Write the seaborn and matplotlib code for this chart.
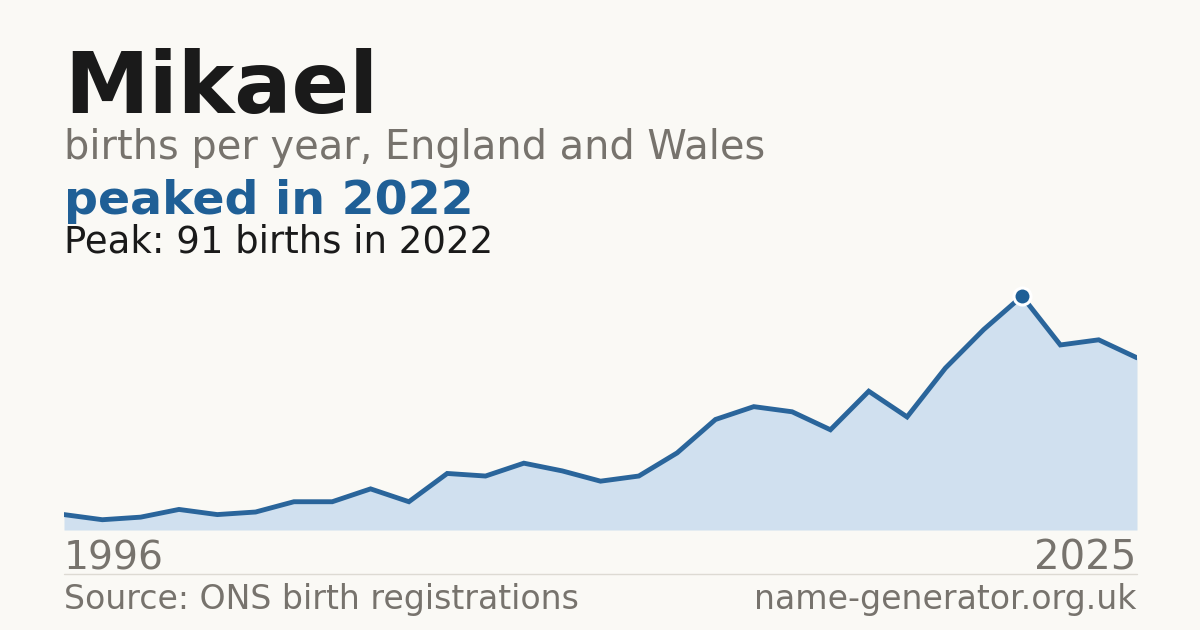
import matplotlib
matplotlib.use("Agg")
import matplotlib.pyplot as plt
import seaborn as sns
import pandas as pd
import numpy as np

# ---- data ----
name = "Mikael"
births = [6, 4, 5, 8, 6, 7, 11, 11, 16, 11, 22, 21, 26, 23, 19, 21, 30, 43, 48, 46,
          39, 54, 44, 63, 78, 91, 72, 74, 67]
tick_labels = ["1996", "2025"]
peak_year = "2022"
peak_value = 91

BG = "#faf9f5"
BLUE = "#1f5f96"
FILL = "#d0e0ef"
GRAY = "#77736d"
DARK = "#1a1a1a"

sns.set_theme(style="white")
plt.rcParams['font.family'] = ['DejaVu Sans']

df = pd.DataFrame({"idx": np.arange(len(births)), "births": births})

fig = plt.figure(figsize=(12, 6.3), dpi=100, facecolor=BG)
left = 64 / 1200
right = 1137 / 1200
bottom = (630 - 530) / 630
height = 257 / 630
ax = fig.add_axes([left, bottom, right - left, height])
ax.set_facecolor(BG)
ax.patch.set_alpha(0)

ax.fill_between(df["idx"], df["births"], 0, color=FILL, linewidth=0, zorder=1)
sns.lineplot(data=df, x="idx", y="births", ax=ax, color="#2a659b", linewidth=3.5,
             zorder=2, solid_joinstyle="miter")
pk = int(np.argmax(births))
ax.scatter([df["idx"][pk]], [births[pk]], s=150, color=BLUE, edgecolor="white",
           linewidth=2.2, zorder=3)

ax.set_xlim(0, len(births) - 1)
ax.set_ylim(0, 100)
ax.axis("off")

# ---- text ----
def fy(px):
    return 1 - px / 630

renderer = fig.canvas.get_renderer()

def fit_text(x, ypx, s, fs, width_px, **kw):
    t = fig.text(x, fy(ypx), s, fontsize=fs, va="baseline", **kw)
    w = t.get_window_extent(renderer).width
    t.set_fontsize(fs * width_px / w)
    return t

fit_text(64 / 1200, 112.7, name, 63.5, 314, fontweight="bold", color=DARK)
fit_text(64 / 1200, 159.3, "births per year, England and Wales", 27.3, 700, color=GRAY)
fit_text(64 / 1200, 214.3, f"peaked in {peak_year}", 35.6, 409, fontweight="bold", color=BLUE)
fit_text(64 / 1200, 252.7, f"Peak: {peak_value} births in {peak_year}", 24, 429, color=DARK)

fit_text(64 / 1200, 569.3, tick_labels[0], 28.2, 100, color=GRAY, ha="left")
fit_text(1136 / 1200, 569.3, tick_labels[1], 28.2, 102, color=GRAY, ha="right")

fig.add_artist(plt.Line2D([64 / 1200, 1137 / 1200], [fy(574), fy(574)], color="#dddad3", linewidth=1))

fit_text(64 / 1200, 609.3, "Source: ONS birth registrations", 22.3, 516, color=GRAY)
fit_text(1136 / 1200, 609.3, "name-generator.org.uk", 22.3, 384, color=GRAY, ha="right")

fig.savefig("out.png", dpi=100, facecolor=BG)
